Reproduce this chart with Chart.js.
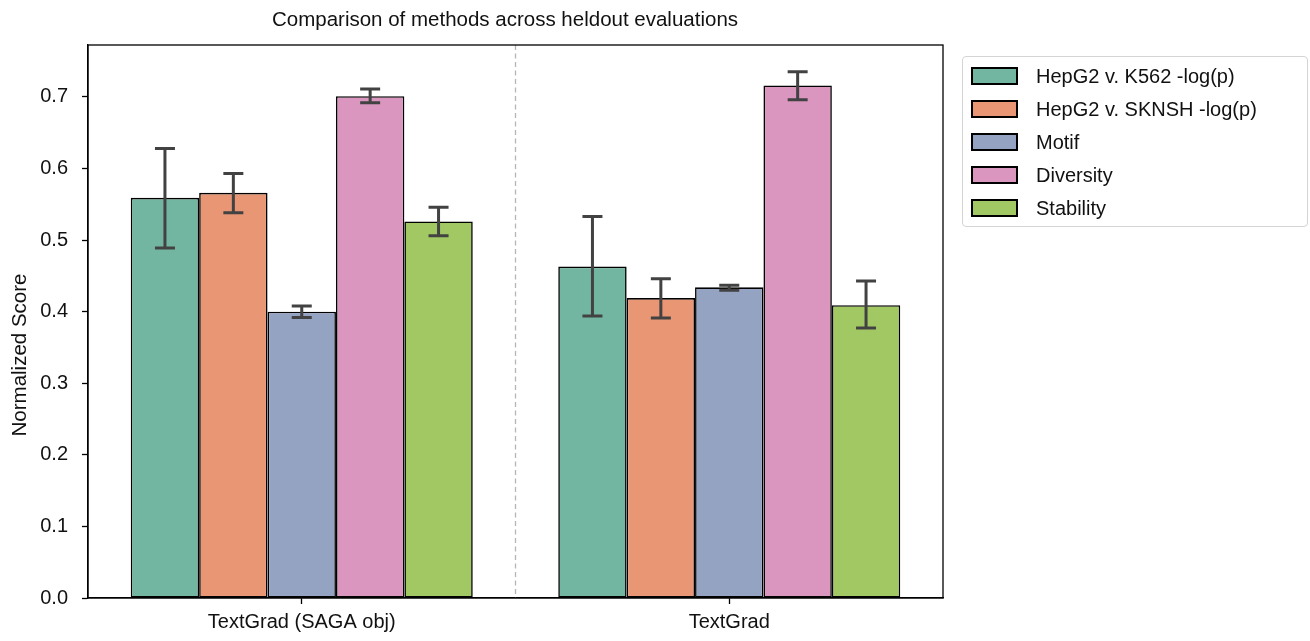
<!DOCTYPE html>
<html>
<head>
<meta charset="utf-8">
<title>Comparison of methods across heldout evaluations</title>
<script src="https://cdn.jsdelivr.net/npm/chart.js@4.4.1/dist/chart.umd.min.js"></script>
<style>
    html, body { margin: 0; padding: 0; background: #fff; }
    body { width: 1310px; height: 641px; position: relative; overflow: hidden; font-family: "Liberation Sans", Arial, sans-serif; }
    #chartWrap { position: absolute; left: 0; top: 0; width: 1010px; height: 641px; }
    #legend {
        position: absolute; left: 962px; top: 56px; width: 346px; height: 171px;
        border: 1px solid #d4d4d4; border-radius: 4px; box-sizing: border-box; background: #fff;
    }
    .legend-row { position: absolute; left: 0; height: 24px; display: flex; align-items: center; font-size: 20px; color: #111; white-space: nowrap; }
    .legend-swatch { width: 43px; height: 14px; border: 2px solid #000; margin-left: 8px; margin-right: 18px; }
</style>
</head>
<body>
<div id="chartWrap"><canvas id="chart"></canvas></div>
<div id="legend"></div>
<script>
    const categories = ["TextGrad (SAGA obj)", "TextGrad"];
    const seriesNames = ["HepG2 v. K562 -log(p)", "HepG2 v. SKNSH -log(p)", "Motif", "Diversity", "Stability"];
    const seriesColors = ["#72b6a1", "#e99675", "#95a3c3", "#db96c0", "#a2c864"];
    const chartTitle = "Comparison of methods across heldout evaluations";
    const yLabel = "Normalized Score";

    // mean values per series (one per category)
    const k562Values = [0.559, 0.463];
    const sknshValues = [0.566, 0.419];
    const motifValues = [0.400, 0.434];
    const diversityValues = [0.701, 0.716];
    const stabilityValues = [0.526, 0.409];

    // error bar lower / upper bounds
    const k562Low = [0.489, 0.394];
    const k562High = [0.628, 0.533];
    const sknshLow = [0.538, 0.391];
    const sknshHigh = [0.593, 0.446];
    const motifLow = [0.392, 0.430];
    const motifHigh = [0.408, 0.437];
    const diversityLow = [0.692, 0.696];
    const diversityHigh = [0.711, 0.735];
    const stabilityLow = [0.506, 0.377];
    const stabilityHigh = [0.546, 0.443];

    const yTicks = [0, 0.1, 0.2, 0.3, 0.4, 0.5, 0.6, 0.7];
    const yMax = 0.7725;

    const seriesValues = [k562Values, sknshValues, motifValues, diversityValues, stabilityValues];
    const seriesLow = [k562Low, sknshLow, motifLow, diversityLow, stabilityLow];
    const seriesHigh = [k562High, sknshHigh, motifHigh, diversityHigh, stabilityHigh];

    const fontFamily = "'Liberation Sans', Arial, sans-serif";
    Chart.defaults.font.family = fontFamily;
    Chart.defaults.font.size = 20;
    Chart.defaults.color = "#1a1a1a";

    // dashed separator between the two groups
    const separatorPlugin = {
        id: "separator",
        beforeDatasetsDraw(chart) {
            const { ctx, chartArea, scales } = chart;
            const x = (scales.x.getPixelForValue(0) + scales.x.getPixelForValue(1)) / 2;
            ctx.save();
            ctx.strokeStyle = "#b5b5b5";
            ctx.lineWidth = 1.3;
            ctx.setLineDash([5, 3.5]);
            ctx.beginPath();
            ctx.moveTo(x, chartArea.top);
            ctx.lineTo(x, chartArea.bottom);
            ctx.stroke();
            ctx.restore();
        },
    };

    const errorBarPlugin = {
        id: "errorBars",
        afterDatasetsDraw(chart) {
            const { ctx, scales } = chart;
            ctx.save();
            ctx.strokeStyle = "#424242";
            ctx.lineWidth = 3;
            chart.data.datasets.forEach((ds, i) => {
                const meta = chart.getDatasetMeta(i);
                meta.data.forEach((bar, j) => {
                    const yLo = scales.y.getPixelForValue(seriesLow[i][j]);
                    const yHi = scales.y.getPixelForValue(seriesHigh[i][j]);
                    const cap = 10;
                    ctx.beginPath();
                    ctx.moveTo(bar.x, yLo);
                    ctx.lineTo(bar.x, yHi);
                    ctx.moveTo(bar.x - cap, yLo);
                    ctx.lineTo(bar.x + cap, yLo);
                    ctx.moveTo(bar.x - cap, yHi);
                    ctx.lineTo(bar.x + cap, yHi);
                    ctx.stroke();
                });
            });
            ctx.restore();
        },
    };

    // axes frame, title and y label (placed like the matplotlib original)
    const framePlugin = {
        id: "frame",
        afterDatasetsDraw(chart) {
            const { ctx, chartArea } = chart;
            ctx.save();
            ctx.strokeStyle = "#000";
            ctx.lineWidth = 1.3;
            ctx.strokeRect(chartArea.left, chartArea.top, chartArea.right - chartArea.left, chartArea.bottom - chartArea.top);
            ctx.restore();
        },
        afterDraw(chart) {
            const { ctx, chartArea } = chart;
            ctx.save();
            ctx.fillStyle = "#111";
            ctx.font = `20.5px ${fontFamily}`;
            ctx.textAlign = "center";
            ctx.textBaseline = "middle";
            ctx.fillText(chartTitle, chartArea.left + 417, 20);
            ctx.translate(20, chartArea.top + 310);
            ctx.rotate(-Math.PI / 2);
            ctx.font = `20.5px ${fontFamily}`;
            ctx.fillText(yLabel, 0, 0);
            ctx.restore();
        },
    };

    const ctx = document.getElementById("chart").getContext("2d");
    new Chart(ctx, {
        type: "bar",
        data: {
            labels: categories,
            datasets: seriesNames.map((name, i) => ({
                label: name,
                data: seriesValues[i],
                backgroundColor: seriesColors[i],
                borderColor: "#000",
                borderWidth: 1.6,
                borderSkipped: false,
                categoryPercentage: 0.8,
                barPercentage: 1.0,
            })),
        },
        options: {
            responsive: true,
            maintainAspectRatio: false,
            animation: false,
            layout: { padding: { left: 0, right: 67, top: 45, bottom: 0 } },
            plugins: {
                legend: { display: false },
                tooltip: { enabled: false },
                title: { display: false },
            },
            scales: {
                x: {
                    grid: { display: true, offset: false, drawOnChartArea: false, tickLength: 6, tickColor: "#000", tickWidth: 1.3 },
                    border: { display: true, color: "#000", width: 1.3 },
                    ticks: { padding: 6, color: "#111", maxRotation: 0 },
                    afterFit: (scale) => { scale.height = 43; },
                },
                y: {
                    min: 0,
                    max: yMax,
                    afterBuildTicks: (scale) => { scale.ticks = yTicks.map((v) => ({ value: v })); },
                    grid: { display: true, drawOnChartArea: false, tickLength: 6, tickColor: "#000", tickWidth: 1.3 },
                    border: { display: true, color: "#000", width: 1.3 },
                    ticks: { padding: 14, color: "#111", callback: (v) => Number(v).toFixed(1) },
                    afterFit: (scale) => { scale.width = 88; },
                },
            },
        },
        plugins: [separatorPlugin, errorBarPlugin, framePlugin],
    });

    // legend box on the right, outside the axes
    const legendBox = document.getElementById("legend");
    seriesNames.forEach((name, i) => {
        const row = document.createElement("div");
        row.className = "legend-row";
        row.style.top = (7 + i * 33) + "px";
        const swatch = document.createElement("span");
        swatch.className = "legend-swatch";
        swatch.style.background = seriesColors[i];
        const label = document.createElement("span");
        label.textContent = name;
        row.appendChild(swatch);
        row.appendChild(label);
        legendBox.appendChild(row);
    });
</script>
</body>
</html>
